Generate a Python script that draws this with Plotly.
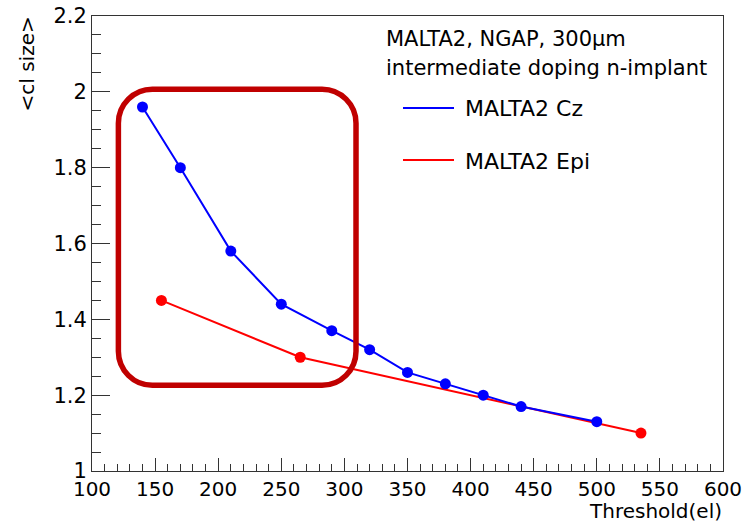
import plotly.graph_objects as go

# Mean cluster size versus threshold for the two MALTA2 sensor flavours
cz_threshold = [140, 170, 210, 250, 290, 320, 350, 380, 410, 440, 500]
cz_cl_size = [1.96, 1.80, 1.58, 1.44, 1.37, 1.32, 1.26, 1.23, 1.20, 1.17, 1.13]

epi_threshold = [155, 265, 535]
epi_cl_size = [1.45, 1.30, 1.10]

series_names = ["MALTA2 Cz", "MALTA2 Epi"]
header_lines = ["MALTA2, NGAP, 300\u03bcm", "intermediate doping n-implant"]

x_tickvals = [100, 150, 200, 250, 300, 350, 400, 450, 500, 550, 600]
x_ticktext = ["100", "150", "200", "250", "300", "350", "400", "450", "500", "550", "600"]
y_tickvals = [1.0, 1.2, 1.4, 1.6, 1.8, 2.0, 2.2]
y_ticktext = ["1", "1.2", "1.4", "1.6", "1.8", "2", "2.2"]

# Highlighted low-threshold region (data coordinates)
box_x = [120.9, 309.2]
box_y = [1.226, 2.007]

W, H = 746, 522
ML, MR, MT, MB = 92, 23, 16, 51
X_RANGE = [100, 600]
Y_RANGE = [1.0, 2.2]
PW, PH = W - ML - MR, H - MT - MB

FONT = "DejaVu Sans"
BLUE = "#0000ff"
RED = "#ff0000"
DARKRED = "#c00000"
AXIS = "#333333"


def px_to_paper(px, py):
    return (px - ML) / PW, 1 - (py - MT) / PH


def rounded_box(x0, x1, y0, y1, r_px):
    # rounded rectangle path in data units; corner radius given in screen pixels
    rx = r_px * (X_RANGE[1] - X_RANGE[0]) / PW
    ry = r_px * (Y_RANGE[1] - Y_RANGE[0]) / PH
    k = 0.5523
    p = [
        f"M {x0 + rx},{y1}",
        f"L {x1 - rx},{y1}",
        f"C {x1 - rx + k * rx},{y1} {x1},{y1 - ry + k * ry} {x1},{y1 - ry}",
        f"L {x1},{y0 + ry}",
        f"C {x1},{y0 + ry - k * ry} {x1 - rx + k * rx},{y0} {x1 - rx},{y0}",
        f"L {x0 + rx},{y0}",
        f"C {x0 + rx - k * rx},{y0} {x0},{y0 + ry - k * ry} {x0},{y0 + ry}",
        f"L {x0},{y1 - ry}",
        f"C {x0},{y1 - ry + k * ry} {x0 + rx - k * rx},{y1} {x0 + rx},{y1}",
        "Z",
    ]
    return " ".join(p)


fig = go.Figure()

fig.add_trace(go.Scatter(
    x=epi_threshold, y=epi_cl_size, mode="lines+markers", name=series_names[1],
    line=dict(color=RED, width=2), marker=dict(color=RED, size=11),
    showlegend=False,
))
fig.add_trace(go.Scatter(
    x=cz_threshold, y=cz_cl_size, mode="lines+markers", name=series_names[0],
    line=dict(color=BLUE, width=2), marker=dict(color=BLUE, size=11),
    showlegend=False,
))

shapes = [dict(
    type="path", xref="x", yref="y",
    path=rounded_box(box_x[0], box_x[1], box_y[0], box_y[1], 34),
    line=dict(color=DARKRED, width=5.5), layer="above",
)]

annotations = []

# legend block
for i, line in enumerate(header_lines):
    px, py = px_to_paper(384, 39 + 29 * i)
    annotations.append(dict(
        text=line, x=px, y=py, xref="paper", yref="paper",
        xanchor="left", yanchor="middle", showarrow=False,
        font=dict(family=FONT, size=21, color="black"),
    ))

for name, color, ypx in zip(series_names, [BLUE, RED], [108, 160]):
    lx0, ly = px_to_paper(403, ypx)
    lx1, _ = px_to_paper(454, ypx)
    shapes.append(dict(
        type="line", xref="paper", yref="paper",
        x0=lx0, x1=lx1, y0=ly, y1=ly, line=dict(color=color, width=2),
    ))
    tx, ty = px_to_paper(463, ypx + 1)
    annotations.append(dict(
        text=name, x=tx, y=ty, xref="paper", yref="paper",
        xanchor="left", yanchor="middle", showarrow=False,
        font=dict(family=FONT, size=22, color="black"),
    ))

# axis titles
tx, ty = px_to_paper(724, 511)
annotations.append(dict(
    text="Threshold(el)", x=tx, y=ty, xref="paper", yref="paper",
    xanchor="right", yanchor="middle", showarrow=False,
    font=dict(family=FONT, size=20, color="black"),
))
tx, ty = px_to_paper(26, 15)
annotations.append(dict(
    text="&lt;cl size&gt;", x=tx, y=ty, xref="paper", yref="paper",
    xanchor="center", yanchor="top", textangle=-90, showarrow=False,
    font=dict(family=FONT, size=20, color="black"),
))

fig.update_layout(
    width=W, height=H,
    margin=dict(l=ML, r=MR, t=MT, b=MB, pad=0, autoexpand=False),
    paper_bgcolor="white", plot_bgcolor="white",
    font=dict(family=FONT, size=21, color="black"),
    shapes=shapes, annotations=annotations,
    showlegend=False,
)

fig.update_xaxes(
    range=X_RANGE, tickmode="array", tickvals=x_tickvals, ticktext=x_ticktext,
    ticks="inside", ticklen=13, tickwidth=1, tickcolor=AXIS,
    minor=dict(tick0=100, dtick=10, ticks="inside", ticklen=7, tickcolor=AXIS, tickwidth=1),
    showline=True, mirror=True, linecolor=AXIS, linewidth=1,
    showgrid=False, zeroline=False, automargin=False,
    tickfont=dict(family=FONT, size=20, color="black"),
)
fig.update_yaxes(
    range=Y_RANGE, tickmode="array", tickvals=y_tickvals, ticktext=y_ticktext,
    ticks="inside", ticklen=18, tickwidth=1, tickcolor=AXIS,
    minor=dict(tick0=1.0, dtick=0.05, ticks="inside", ticklen=9, tickcolor=AXIS, tickwidth=1),
    showline=True, mirror=True, linecolor=AXIS, linewidth=1,
    showgrid=False, zeroline=False, automargin=False,
    tickfont=dict(family=FONT, size=21, color="black"),
)

fig.write_html("out.html")
